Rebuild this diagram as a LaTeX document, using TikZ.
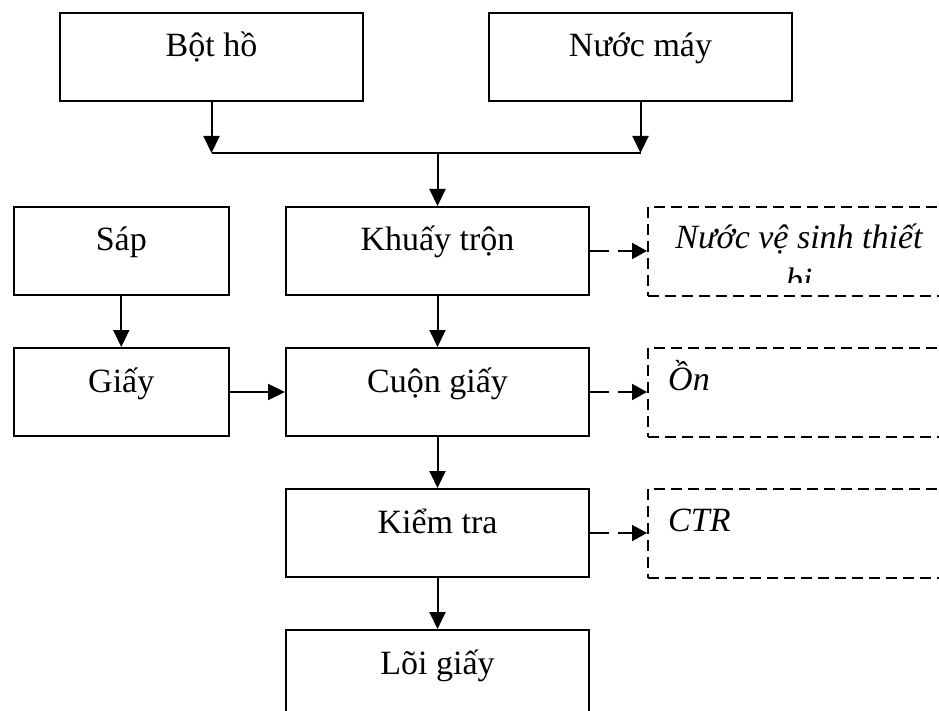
\documentclass[tikz,border=0pt]{standalone}
\usepackage{fontspec}
\setmainfont{Liberation Serif}
\usetikzlibrary{arrows.meta}
\begin{document}
\begin{tikzpicture}[x=1pt,y=-1pt,
  txt/.style={font=\fontsize{34}{40}\selectfont},
  box/.style={draw,line width=2pt,inner sep=0pt,minimum width=303pt,
    text height=44pt,text depth=44pt,anchor=north west,txt},
  smallbox/.style={box,minimum width=215.5pt},
  outbox/.style={draw,line width=1.6pt,dash pattern=on 11pt off 6pt,inner sep=0pt,
    minimum width=304pt,minimum height=89pt,anchor=north west},
  flow/.style={line width=2pt,-{Triangle[length=17pt,width=16pt]}},
  dflow/.style={line width=2pt,-{Triangle[length=15pt,width=16pt]},dash pattern=on 19pt off 9pt},
  note/.style={txt,font=\fontsize{34}{40}\selectfont\itshape,inner sep=0pt}]
\useasboundingbox (0,0) rectangle (939,711);
\clip (0,0) rectangle (939,711);

% inputs
\node[box] (bot) at (59,12) {Bột hồ};
\node[box] (nuoc) at (488,12) {Nước máy};

% main line
\node[box] (khuay) at (285,206) {Khuấy trộn};
\node[box] (cuon) at (285,347) {Cuộn giấy};
\node[box] (kiem) at (285,488) {Kiểm tra};
\node[box] (loi) at (285,629) {Lõi giấy};

% side line
\node[smallbox] (sap) at (12.5,206) {Sáp};
\node[smallbox] (giay) at (12.5,347) {Giấy};

% waste streams
\node[outbox] (o1) at (647,206) {};
\node[outbox] (o2) at (647,347) {};
\node[outbox] (o3) at (647,488) {};
\node[note,anchor=base] (t1) at (799,248) {Nước vệ sinh thiết};
\begin{scope}
  \clip (647,206) rectangle (951,282);
  \node[note,anchor=base] (t1b) at (799,291) {bị};
\end{scope}
\node[note,anchor=base west] (t2) at (668,390) {Ồn};
\node[note,anchor=base west] (t3) at (668,531) {CTR};

% merging the two inputs
\coordinate (jl) at (bot.south |- 0,153);
\coordinate (jr) at (nuoc.south |- 0,153);
\coordinate (jc) at (khuay.north |- 0,153);
\draw[flow] (bot.south) -- (jl);
\draw[flow] (nuoc.south) -- (jr);
\draw[line width=2pt] (jl) -- (jr);
\draw[flow] (jc) -- (khuay.north);

% process arrows
\draw[flow] (khuay.south) -- (cuon.north);
\draw[flow] (cuon.south) -- (kiem.north);
\draw[flow] (kiem.south) -- (loi.north);
\draw[flow] (sap.south) -- (giay.north);
\draw[flow] (giay.east) -- (giay.east -| cuon.west);

% dashed outputs
\draw[dflow] (khuay.east) -- (khuay.east -| o1.west);
\draw[dflow] (cuon.east) -- (cuon.east -| o2.west);
\draw[dflow] (kiem.east) -- (kiem.east -| o3.west);
\end{tikzpicture}
\end{document}
